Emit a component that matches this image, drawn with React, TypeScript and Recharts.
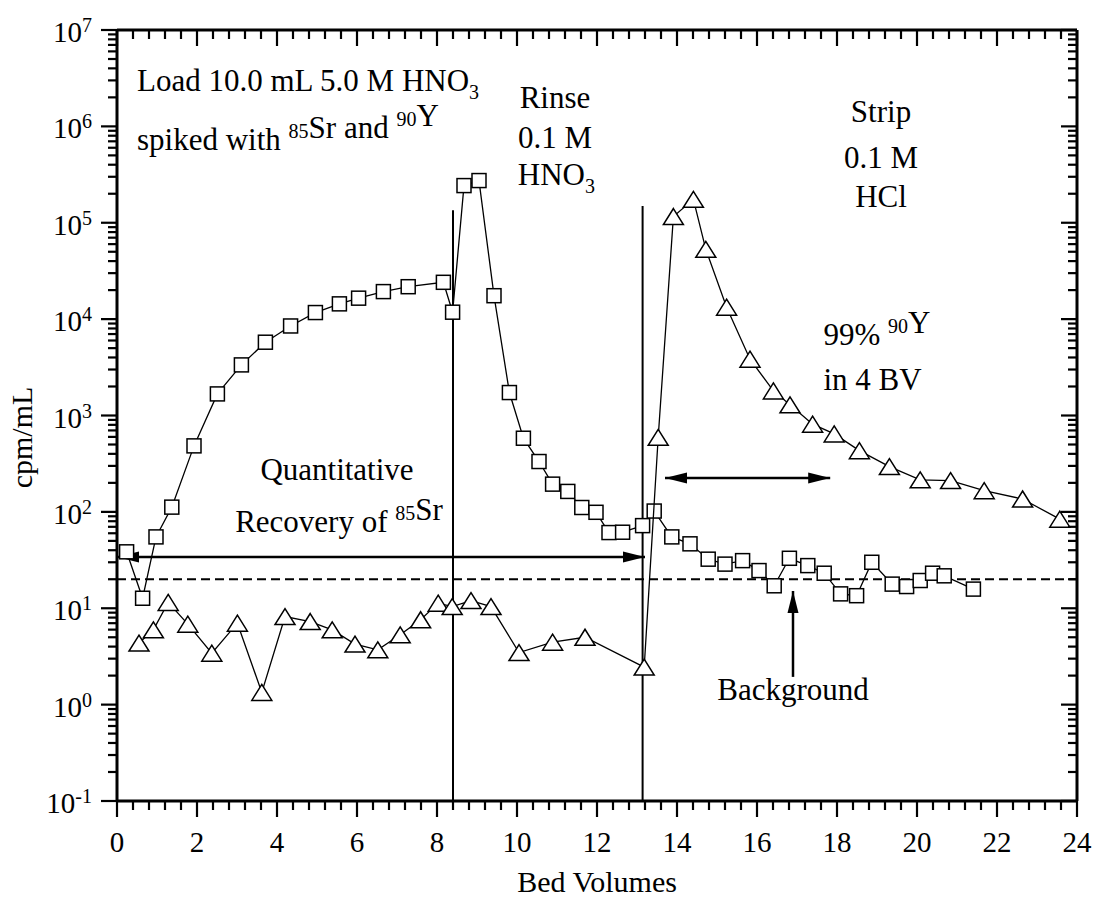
import React from 'react';
import { ScatterChart, Scatter, XAxis, YAxis, ReferenceLine, ReferenceDot } from 'recharts';

// 85Sr (squares)
const SR_BV = [
  0.24, 0.64, 0.975, 1.37, 1.925, 2.51, 3.11, 3.71, 4.34, 4.96, 5.56, 6.04, 6.66, 7.28, 8.16, 8.39,
  8.675, 9.05, 9.425, 9.81, 10.16, 10.55, 10.89, 11.27, 11.62, 11.975, 12.3, 12.64, 13.14, 13.43,
  13.87, 14.325, 14.78, 15.2, 15.64, 16.05, 16.43, 16.81, 17.27, 17.68, 18.09, 18.49, 18.87, 19.38,
  19.74, 20.08, 20.39, 20.68, 21.41,
];
const SR_CPM = [
  38.5, 12.7, 55, 112, 484, 1675, 3350, 5760, 8490, 11700, 14400, 16500, 19300, 21700, 24100, 11800,
  243000, 274000, 17500, 1730, 581, 333, 194, 163, 111, 99, 61, 61.5, 72, 102,
  55, 46.6, 32.3, 28.7, 31.2, 24.6, 17.1, 33, 27.7, 23.1, 14.1, 13.5, 30, 17.8,
  16.8, 19.4, 23.1, 21.7, 15.8,
];

// 90Y (triangles)
const Y_BV = [
  0.55, 0.91, 1.28, 1.77, 2.37, 3.01, 3.62, 4.2, 4.83, 5.38, 5.95, 6.52, 7.08, 7.59, 8.03, 8.38,
  8.85, 9.35, 10.05, 10.89, 11.7, 13.18, 13.53, 13.91, 14.41, 14.72, 15.24, 15.825, 16.41, 16.825,
  17.39, 17.93, 18.56, 19.31, 20.08, 20.84, 21.68, 22.64, 23.57,
];
const Y_CPM = [
  4.35, 5.97, 11.5, 6.84, 3.42, 7.0, 1.34, 8.2, 7.28, 5.97, 4.25, 3.7, 5.3, 7.6, 11.3, 10.4,
  12.0, 10.4, 3.47, 4.45, 5.0, 2.45, 594, 116000, 175000, 53000, 13300, 3840, 1800, 1290,
  813, 644, 432, 295, 215, 211, 166, 136, 84,
];

const BACKGROUND = 20;
const X_TICKS = Array.from({ length: 61 }, (_, i) => Math.round(i * 4) / 10);
const DECADES = [-1, 0, 1, 2, 3, 4, 5, 6];
const Y_TICKS = [...DECADES.flatMap((e) => [1, 2, 3, 4, 5, 6, 7, 8, 9].map((m) => m * Math.pow(10, e))), 1e7];

const srData = SR_BV.map((x, i) => ({ x, y: SR_CPM[i] }));
const yData = Y_BV.map((x, i) => ({ x, y: Y_CPM[i] }));

const FONT = '"Liberation Serif", "Times New Roman", serif';
const FS = 31;

function XTick(props: any) {
  const { x, y, payload, showLabel } = props;
  const v = payload.value;
  const major = Math.abs(v / 2 - Math.round(v / 2)) < 1e-6;
  return (
    <g>
      <line x1={x} y1={y} x2={x} y2={y + (major ? 16 : 9)} stroke="#000" strokeWidth={2.2} />
      {showLabel && major && (
        <text x={x} y={y + 51} textAnchor="middle" fontSize={29} fontFamily={FONT} fill="#000">
          {v}
        </text>
      )}
    </g>
  );
}

function YTick(props: any) {
  const { x, y, payload, showLabel } = props;
  const lg = Math.log10(payload.value);
  const major = Math.abs(lg - Math.round(lg)) < 1e-6;
  return (
    <g>
      <line x1={x - (major ? 16 : 9)} y1={y} x2={x} y2={y} stroke="#000" strokeWidth={2.2} />
      {showLabel && major && (
        <text x={x - 25} y={y + 12} textAnchor="end" fontSize={29} fontFamily={FONT} fill="#000">
          10
          <tspan dy={-10} fontSize={20}>{Math.round(lg)}</tspan>
        </text>
      )}
    </g>
  );
}

function Square(props: any) {
  const { cx, cy } = props;
  return <rect x={cx - 7} y={cy - 7} width={14} height={14} fill="#fff" stroke="#000" strokeWidth={1.5} />;
}

function Triangle(props: any) {
  const { cx, cy } = props;
  return (
    <polygon
      points={`${cx},${cy - 8} ${cx + 10},${cy + 8} ${cx - 10},${cy + 8}`}
      fill="#fff"
      stroke="#000"
      strokeWidth={1.5}
    />
  );
}

function head(dir: 'left' | 'right' | 'up') {
  return (p: any) => {
    const { cx, cy } = p;
    let pts = '';
    if (dir === 'right') pts = `${cx},${cy} ${cx - 22},${cy - 5.5} ${cx - 22},${cy + 5.5}`;
    if (dir === 'left') pts = `${cx},${cy} ${cx + 22},${cy - 5.5} ${cx + 22},${cy + 5.5}`;
    if (dir === 'up') pts = `${cx},${cy} ${cx - 5.5},${cy + 22} ${cx + 5.5},${cy + 22}`;
    return <polygon points={pts} fill="#000" />;
  };
}

function note(content: React.ReactNode, anchor: 'start' | 'middle' = 'start') {
  return (p: any) => (
    <text x={p.cx} y={p.cy} textAnchor={anchor} fontSize={FS} fontFamily={FONT} fill="#000">
      {content}
    </text>
  );
}

const sup = (s: string) => (
  <>
    <tspan dy={-12} fontSize={20}>{s}</tspan>
    <tspan dy={12}></tspan>
  </>
);

export default function App() {
  return (
    <div style={{ position: 'absolute', left: 0, top: 0, background: '#fff' }}>
      <ScatterChart width={1097} height={900} margin={{ top: 0, right: 0, bottom: 0, left: 0 }}>
        <XAxis
          xAxisId={0}
          type="number"
          dataKey="x"
          domain={[0, 24]}
          ticks={X_TICKS}
          interval={0}
          allowDataOverflow
          height={99}
          tickSize={0}
          tickMargin={0}
          tickLine={false}
          axisLine={{ stroke: '#000', strokeWidth: 3 }}
          tick={(p: any) => <XTick {...p} showLabel />}
          label={(p: any) => (
            <text
              x={p.viewBox.x + p.viewBox.width / 2}
              y={p.viewBox.y + 91}
              textAnchor="middle"
              fontSize={30}
              fontFamily={FONT}
              fill="#000"
            >
              Bed Volumes
            </text>
          )}
        />
        <XAxis
          xAxisId="top"
          orientation="top"
          type="number"
          dataKey="x"
          domain={[0, 24]}
          ticks={X_TICKS}
          interval={0}
          allowDataOverflow
          height={30}
          tickSize={0}
          tickMargin={0}
          tickLine={false}
          axisLine={{ stroke: '#000', strokeWidth: 3 }}
          tick={(p: any) => <XTick {...p} />}
        />
        <YAxis
          yAxisId={0}
          type="number"
          dataKey="y"
          scale="log"
          domain={[0.1, 1e7]}
          ticks={Y_TICKS}
          interval={0}
          allowDataOverflow
          width={117}
          tickSize={0}
          tickMargin={0}
          tickLine={false}
          axisLine={{ stroke: '#000', strokeWidth: 3 }}
          tick={(p: any) => <YTick {...p} showLabel />}
          label={(p: any) => {
            const cx = p.viewBox.x + 32;
            const cy = p.viewBox.y + p.viewBox.height / 2 + 22;
            return (
              <text
                x={cx}
                y={cy}
                transform={`rotate(-90 ${cx} ${cy})`}
                textAnchor="middle"
                fontSize={30}
                fontFamily={FONT}
                fill="#000"
              >
                cpm/mL
              </text>
            );
          }}
        />
        <YAxis
          yAxisId="right"
          orientation="right"
          type="number"
          dataKey="y"
          scale="log"
          domain={[0.1, 1e7]}
          ticks={Y_TICKS}
          interval={0}
          allowDataOverflow
          width={20}
          tickSize={0}
          tickMargin={0}
          tickLine={false}
          axisLine={{ stroke: '#000', strokeWidth: 3 }}
          tick={(p: any) => <YTick {...p} />}
        />

        <ReferenceLine y={BACKGROUND} stroke="#000" strokeWidth={2} strokeDasharray="9 5" />
        <ReferenceLine segment={[{ x: 8.4, y: 0.1 }, { x: 8.4, y: 1.35e5 }]} stroke="#000" strokeWidth={2} />
        <ReferenceLine segment={[{ x: 13.14, y: 0.1 }, { x: 13.14, y: 1.49e5 }]} stroke="#000" strokeWidth={2} />

        <ReferenceLine segment={[{ x: 0, y: 34 }, { x: 13.2, y: 34 }]} stroke="#000" strokeWidth={2.5} />
        <ReferenceDot x={0} y={34} r={0} shape={head('left')} />
        <ReferenceDot x={13.2} y={34} r={0} shape={head('right')} />

        <ReferenceLine segment={[{ x: 13.7, y: 225 }, { x: 17.83, y: 225 }]} stroke="#000" strokeWidth={2.5} />
        <ReferenceDot x={13.7} y={225} r={0} shape={head('left')} />
        <ReferenceDot x={17.83} y={225} r={0} shape={head('right')} />

        <ReferenceLine segment={[{ x: 16.9, y: 1.94 }, { x: 16.9, y: 15.1 }]} stroke="#000" strokeWidth={2.5} />
        <ReferenceDot x={16.9} y={15.1} r={0} shape={head('up')} />

        <Scatter
          data={srData}
          shape={Square}
          line={{ stroke: '#000', strokeWidth: 1.3 }}
          isAnimationActive={false}
        />
        <Scatter
          data={yData}
          shape={Triangle}
          line={{ stroke: '#000', strokeWidth: 1.3 }}
          isAnimationActive={false}
        />

        <ReferenceDot
          x={0.5}
          y={Math.pow(10, 6.367)}
          r={0}
          shape={note(
            <>
              Load 10.0 mL 5.0 M HNO
              <tspan dy={8} fontSize={20}>3</tspan>
            </>
          )}
        />
        <ReferenceDot
          x={0.5}
          y={Math.pow(10, 5.755)}
          r={0}
          shape={note(
            <>
              spiked with {sup('85')}Sr and {sup('90')}Y
            </>
          )}
        />
        <ReferenceDot x={10.95} y={Math.pow(10, 6.19)} r={0} shape={note('Rinse', 'middle')} />
        <ReferenceDot x={10.95} y={Math.pow(10, 5.776)} r={0} shape={note('0.1 M', 'middle')} />
        <ReferenceDot
          x={10.02}
          y={Math.pow(10, 5.392)}
          r={0}
          shape={note(
            <>
              HNO
              <tspan dy={8} fontSize={20}>3</tspan>
            </>
          )}
        />
        <ReferenceDot x={19.1} y={Math.pow(10, 6.049)} r={0} shape={note('Strip', 'middle')} />
        <ReferenceDot x={19.1} y={Math.pow(10, 5.572)} r={0} shape={note('0.1 M', 'middle')} />
        <ReferenceDot x={19.1} y={Math.pow(10, 5.167)} r={0} shape={note('HCl', 'middle')} />
        <ReferenceDot
          x={17.66}
          y={Math.pow(10, 3.732)}
          r={0}
          shape={note(
            <>
              99% {sup('90')}Y
            </>
          )}
        />
        <ReferenceDot x={17.66} y={Math.pow(10, 3.266)} r={0} shape={note('in 4 BV')} />
        <ReferenceDot x={5.5} y={Math.pow(10, 2.332)} r={0} shape={note('Quantitative', 'middle')} />
        <ReferenceDot
          x={5.55}
          y={Math.pow(10, 1.796)}
          r={0}
          shape={note(
            <>
              Recovery of {sup('85')}Sr
            </>,
            'middle'
          )}
        />
        <ReferenceDot x={16.9} y={Math.pow(10, 0.05)} r={0} shape={note('Background', 'middle')} />
      </ScatterChart>
    </div>
  );
}
